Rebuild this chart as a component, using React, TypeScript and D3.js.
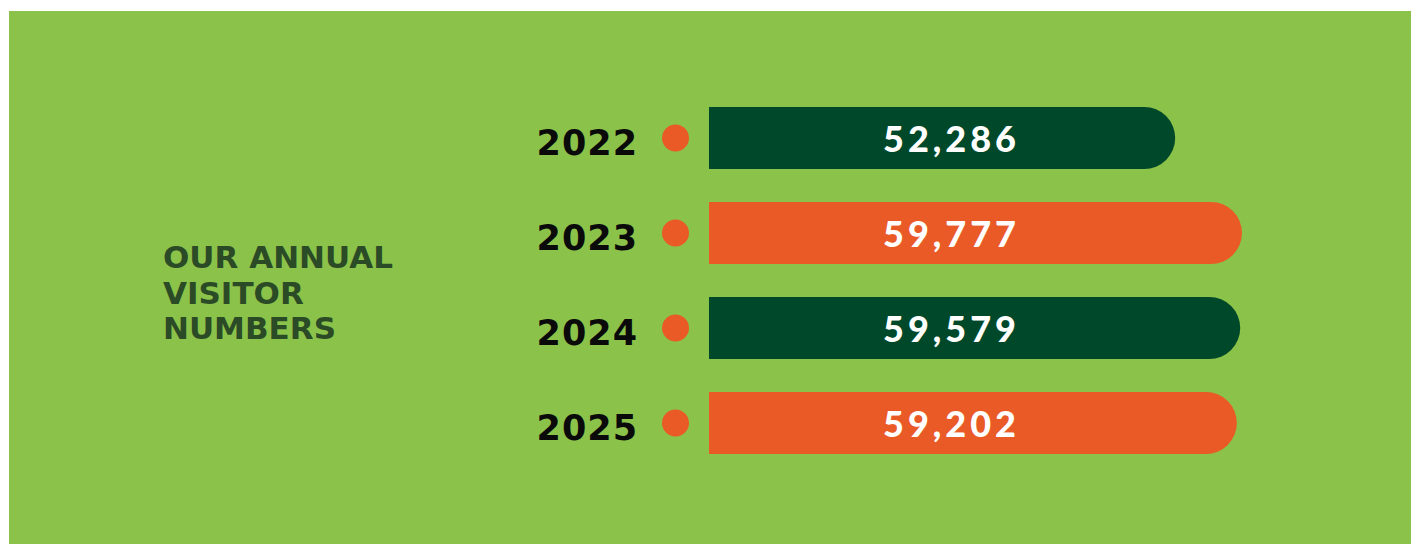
import React from "react";
import * as d3 from "d3";

const years = ["2022", "2023", "2024", "2025"];
const visitors = [52286, 59777, 59579, 59202];
const barColors = ["#00482A", "#E95A27", "#00482A", "#E95A27"];
const titleLines = ["OUR ANNUAL", "VISITOR", "NUMBERS"];

const W = 1411;
const H = 544;

export default function App() {
  const y = d3.scaleBand<string>().domain(years).range([107, 454]).paddingInner(0.3474).paddingOuter(0);
  const x = d3.scaleLinear().domain([0, d3.max(visitors) as number]).range([0, 533]);
  const x0 = 709;
  const fmt = d3.format(",");
  const bw = y.bandwidth();
  const r = bw / 2;

  const barPath = (v: number, top: number) => {
    const x1 = x0 + x(v);
    return `M${x0},${top} L${x1 - r},${top} A${r},${r} 0 0 1 ${x1 - r},${top + bw} L${x0},${top + bw} Z`;
  };

  return (
    <svg width={W} height={H} style={{ position: "absolute", left: 0, top: 0 }}>
      <rect x={9} y={11} width={W - 9} height={H - 11} fill="#8BC34A" />
      <g fontFamily="DejaVu Sans" fontWeight="bold" fill="#2B4A26" fontSize={31}>
        {titleLines.map((t, i) => (
          <text key={t} x={163} y={268 + i * 35.5}>{t}</text>
        ))}
      </g>
      {years.map((yr, i) => {
        const top = y(yr) as number;
        const cy = top + bw / 2;
        return (
          <g key={yr}>
            <text x={638} y={cy + 17} textAnchor="end" fontFamily="DejaVu Sans" fontWeight="bold" fontSize={35} fill="#0A0A0A" letterSpacing={1}>
              {yr}
            </text>
            <circle cx={675.5} cy={cy} r={13.5} fill="#E95A27" />
            <path d={barPath(visitors[i], top)} fill={barColors[i]} />
            <text x={883} y={cy + 14} fontFamily="Lato" fontWeight={900} fontSize={36} fill="#FFFFFF" letterSpacing={4}>
              {fmt(visitors[i])}
            </text>
          </g>
        );
      })}
    </svg>
  );
}
